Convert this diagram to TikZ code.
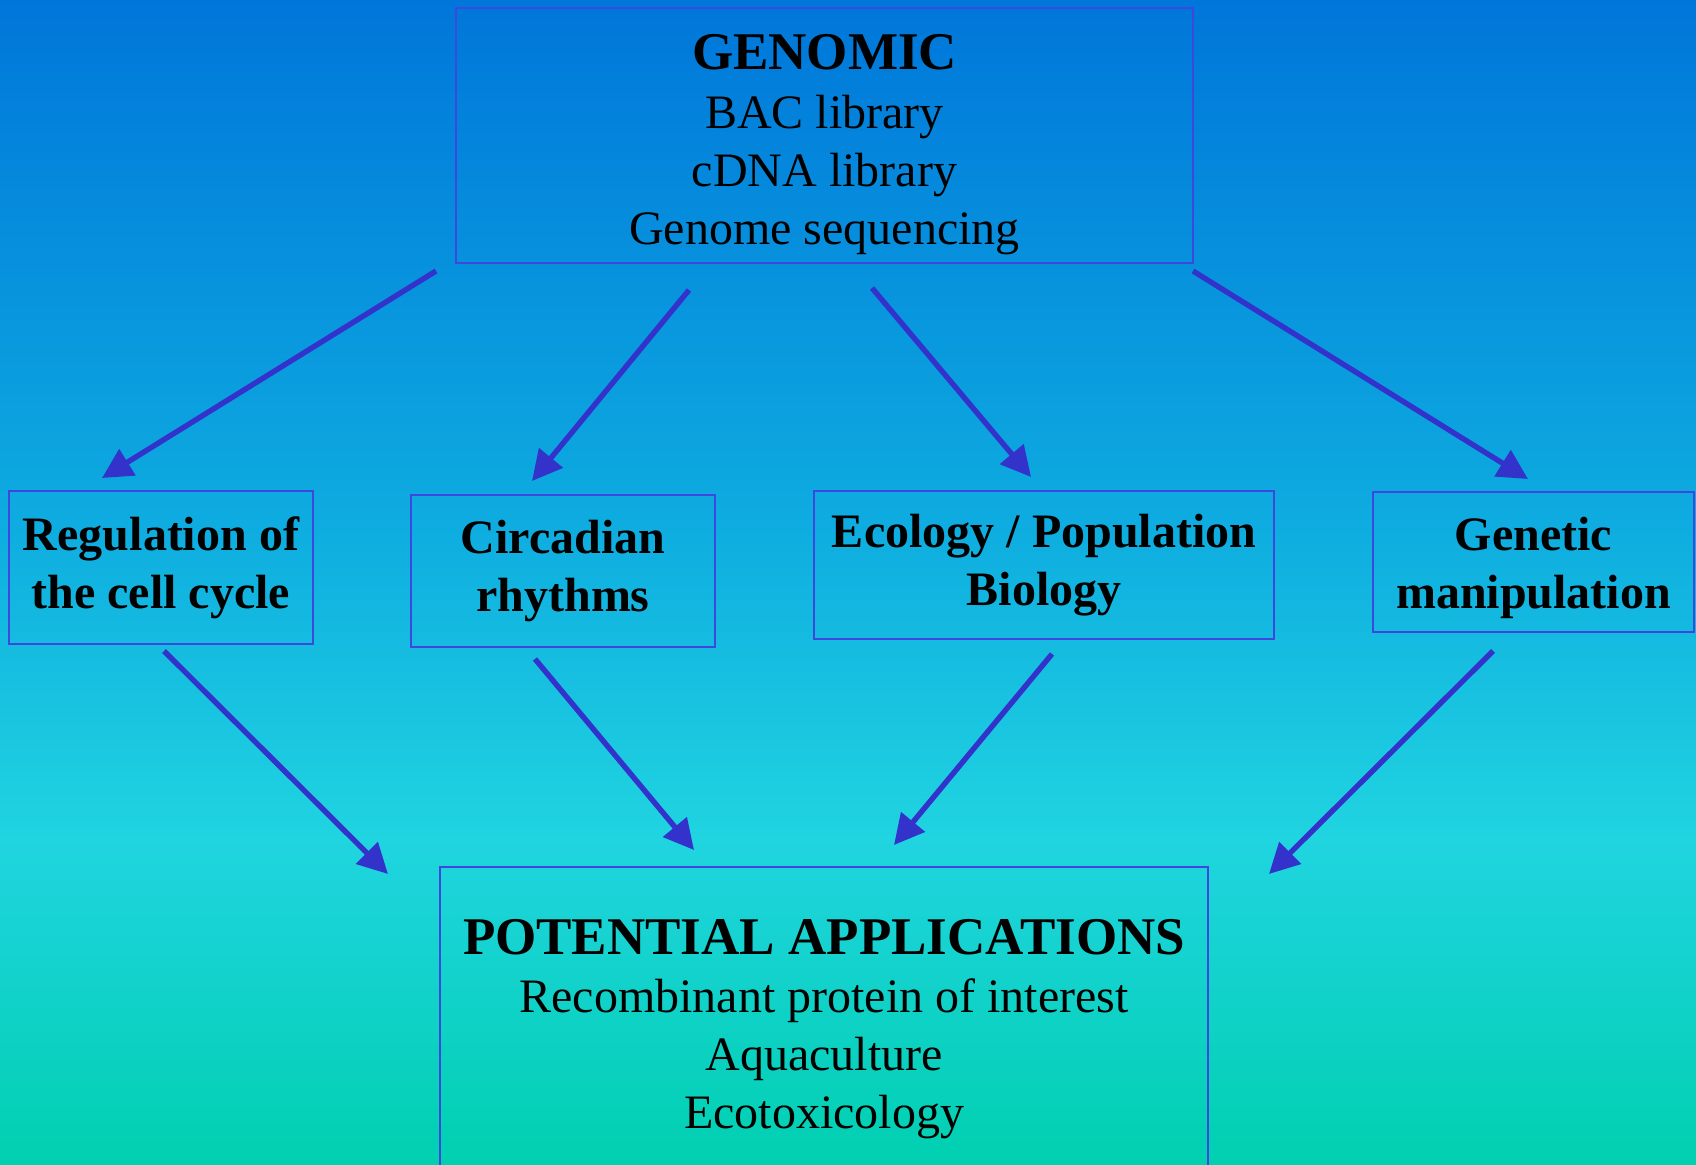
\documentclass[tikz,border=0pt]{standalone}
\usepackage{fontspec}
\setmainfont{Liberation Serif}
\usetikzlibrary{arrows.meta}
\definecolor{bgtop}{RGB}{0,118,218}
\definecolor{bgmidA}{RGB}{14,172,224}
\definecolor{bgmidB}{RGB}{32,212,224}
\definecolor{bgbot}{RGB}{0,208,176}
\definecolor{boxblue}{RGB}{60,72,222}
\definecolor{arrowblue}{RGB}{51,51,204}
\pgfdeclareverticalshading{bgshade}{100bp}{color(0bp)=(bgbot); color(25bp)=(bgbot); color(39bp)=(bgmidB); color(52.5bp)=(bgmidA); color(75bp)=(bgtop); color(100bp)=(bgtop)}
\begin{document}
\begin{tikzpicture}[x=0.5pt,y=-0.5pt,
  box/.style={draw=boxblue, line width=0.7pt, align=center, inner sep=0pt, text=black,
    font=\fontsize{24}{29}\selectfont},
  smallbox/.style={box, font=\bfseries\fontsize{24}{29}\selectfont},
  txt/.style={align=center, inner sep=0pt, text=black, font=\fontsize{24}{29}\selectfont},
  boldtxt/.style={txt, font=\bfseries\fontsize{24}{29}\selectfont},
  link/.style={draw=arrowblue, line width=2.7pt, -{Triangle[length=15pt,width=15pt]}}]
\useasboundingbox (0,0) rectangle (1696,1165);
\shade[shading=bgshade] (0,0) rectangle (1696,1165);
\clip (0,0) rectangle (1696,1165);

\node[box, minimum width=368.5pt, minimum height=127.5pt] (gen) at (824.5,135.5) {};
\node[txt] (gentext) at ([yshift=-4.5pt]gen.center)
  {{\bfseries\fontsize{26.5}{29}\selectfont GENOMIC}\\[0.5pt]BAC library\\cDNA library\\Genome sequencing};

\node[smallbox, minimum width=152pt, minimum height=76.5pt] (reg) at (161,567.5)
  {Regulation of\\the cell cycle};
\node[smallbox, minimum width=152pt, minimum height=76pt] (circ) at (563,571)
  {Circadian\\rhythms};
\node[smallbox, minimum width=230pt, minimum height=74pt] (eco) at (1044,565)
  {Ecology / Population\\Biology};
\node[box, minimum width=160.5pt, minimum height=70pt] (genm) at (1533.5,562) {};
\node[boldtxt] (genmtext) at ([yshift=-3pt]genm.center) {Genetic\\manipulation};

\node[box, minimum width=384pt, minimum height=159pt] (pot) at (824,1026) {};
\node[txt] (pottext) at ([yshift=-1.5pt]pot.center)
  {{\bfseries\fontsize{26.5}{29}\selectfont POTENTIAL APPLICATIONS}\\Recombinant protein of interest\\Aquaculture\\Ecotoxicology};

\coordinate (s1) at (436,271);  \coordinate (e1) at (102,478);
\coordinate (s2) at (689,290);  \coordinate (e2) at (532,481);
\coordinate (s3) at (872,288);  \coordinate (e3) at (1031,477);
\coordinate (s4) at (1193,271); \coordinate (e4) at (1528,479);
\coordinate (s5) at (164,651);  \coordinate (e5) at (388,874);
\coordinate (s6) at (535,659);  \coordinate (e6) at (694,850);
\coordinate (s7) at (1052,654); \coordinate (e7) at (894,845);
\coordinate (s8) at (1493,651); \coordinate (e8) at (1269,874);

\draw[link] (s1) -- (e1);
\draw[link] (s2) -- (e2);
\draw[link] (s3) -- (e3);
\draw[link] (s4) -- (e4);
\draw[link] (s5) -- (e5);
\draw[link] (s6) -- (e6);
\draw[link] (s7) -- (e7);
\draw[link] (s8) -- (e8);
\end{tikzpicture}
\end{document}
